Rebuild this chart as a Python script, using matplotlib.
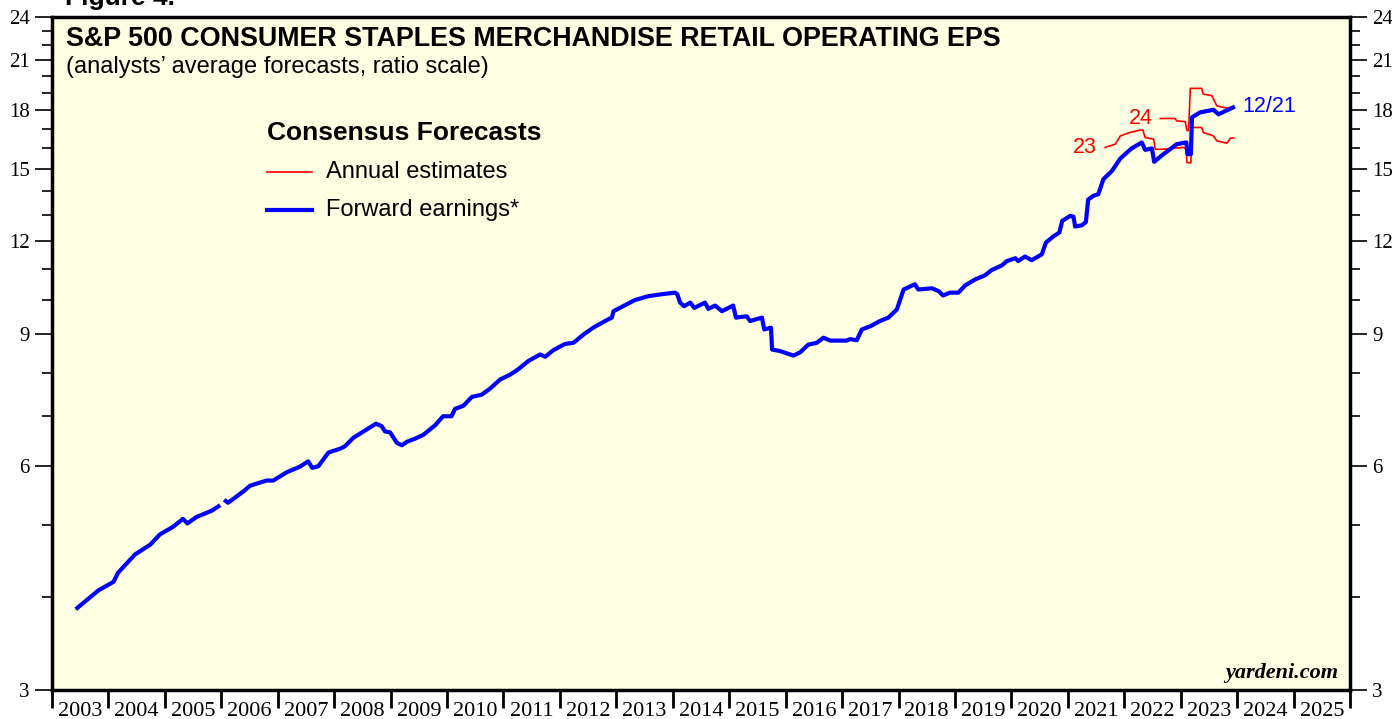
import numpy as np
import matplotlib
matplotlib.use('Agg')
import matplotlib.pyplot as plt
from matplotlib.ticker import FixedLocator, NullFormatter, FixedFormatter

# Forward earnings (decimal year, EPS)
fwd_year = [2003.42, 2003.82, 2004.09, 2004.17, 2004.47, 2004.74, 2004.91, 2005.15, 2005.32, 2005.40,
            2005.56, 2005.83, 2005.98, 2006.01, 2006.05, 2006.12, 2006.39, 2006.51, 2006.80, 2006.92,
            2007.16, 2007.39, 2007.54, 2007.61, 2007.72, 2007.90, 2008.10, 2008.19, 2008.34, 2008.55,
            2008.74, 2008.84, 2008.90, 2008.99, 2009.11, 2009.20, 2009.29, 2009.43, 2009.58, 2009.79,
            2009.93, 2010.08, 2010.14, 2010.29, 2010.44, 2010.61, 2010.76, 2010.94, 2011.12, 2011.26,
            2011.44, 2011.65, 2011.74, 2011.88, 2012.09, 2012.24, 2012.42, 2012.59, 2012.80, 2012.92,
            2012.95, 2013.12, 2013.33, 2013.57, 2013.80, 2014.04, 2014.08, 2014.13, 2014.20, 2014.31,
            2014.38, 2014.57, 2014.63, 2014.75, 2014.87, 2015.07, 2015.12, 2015.31, 2015.37, 2015.58,
            2015.62, 2015.74, 2015.76, 2015.90, 2016.14, 2016.26, 2016.40, 2016.55, 2016.67, 2016.79,
            2017.08, 2017.14, 2017.26, 2017.35, 2017.50, 2017.67, 2017.82, 2017.97, 2018.09, 2018.29,
            2018.35, 2018.59, 2018.71, 2018.79, 2018.91, 2019.06, 2019.18, 2019.36, 2019.53, 2019.65,
            2019.83, 2019.92, 2020.07, 2020.12, 2020.24, 2020.36, 2020.54, 2020.61, 2020.74, 2020.85,
            2020.90, 2021.04, 2021.10, 2021.13, 2021.25, 2021.32, 2021.36, 2021.45, 2021.54, 2021.63,
            2021.78, 2021.93, 2022.13, 2022.31, 2022.37, 2022.49, 2022.53, 2022.67, 2022.93, 2023.10,
            2023.12, 2023.18, 2023.20, 2023.34, 2023.58, 2023.67, 2023.96]
fwd_eps = [3.85, 4.08, 4.19, 4.31, 4.56, 4.70, 4.85, 4.97, 5.09, 5.02,
           5.12, 5.22, 5.31, np.nan, 5.40, 5.35, 5.54, 5.64, 5.73, 5.73,
           5.88, 5.98, 6.08, 5.96, 5.99, 6.25, 6.32, 6.37, 6.54, 6.69,
           6.83, 6.78, 6.67, 6.65, 6.44, 6.39, 6.46, 6.52, 6.60, 6.80,
           6.99, 6.99, 7.15, 7.22, 7.42, 7.47, 7.61, 7.83, 7.95, 8.08,
           8.29, 8.46, 8.40, 8.57, 8.74, 8.77, 9.00, 9.19, 9.38, 9.48,
           9.67, 9.82, 10.01, 10.13, 10.19, 10.24, 10.19, 9.93, 9.82, 9.93,
           9.77, 9.93, 9.74, 9.84, 9.67, 9.84, 9.48, 9.52, 9.38, 9.48,
           9.14, 9.19, 8.59, 8.55, 8.43, 8.52, 8.72, 8.77, 8.91, 8.83,
           8.83, 8.87, 8.84, 9.14, 9.23, 9.38, 9.48, 9.72, 10.34, 10.51,
           10.34, 10.38, 10.29, 10.15, 10.24, 10.24, 10.47, 10.67, 10.80, 10.98,
           11.14, 11.29, 11.39, 11.29, 11.45, 11.32, 11.53, 11.95, 12.18, 12.33,
           12.78, 12.98, 12.95, 12.56, 12.61, 12.74, 13.65, 13.81, 13.88, 14.54,
           14.91, 15.50, 15.99, 16.29, 15.92, 15.99, 15.34, 15.66, 16.20, 16.29,
           15.71, 15.71, 17.60, 17.87, 18.02, 17.77, 18.20]

# Annual estimates for 2023
est23_year = [2021.66, 2021.84, 2021.93, 2022.10, 2022.28, 2022.33, 2022.37, 2022.52, 2022.55, 2022.69,
              2022.87, 2023.05, 2023.10, 2023.11, 2023.18, 2023.20, 2023.37, 2023.40, 2023.58, 2023.64,
              2023.82, 2023.88, 2023.94]
est23_eps = [16.04, 16.20, 16.62, 16.80, 16.92, 16.92, 16.54, 16.45, 15.95, 15.95,
             16.00, 16.04, 15.95, 15.31, 15.29, 17.06, 17.06, 16.80, 16.62, 16.37,
             16.25, 16.51, 16.51]

# Annual estimates for 2024
est24_year = [2022.64, 2022.90, 2022.93, 2023.08, 2023.11, 2023.14, 2023.17, 2023.37, 2023.40, 2023.55,
              2023.64, 2023.75, 2023.88]
est24_eps = [17.54, 17.54, 17.41, 17.37, 16.90, 16.90, 19.25, 19.25, 18.91, 18.83,
             18.24, 18.15, 18.10]

years = list(range(2003, 2026))
y_major = [3, 6, 9, 12, 15, 18, 21, 24]
y_minor = [4, 5, 7, 8, 10, 11, 13, 14, 16, 17, 19, 20, 22, 23]

BLUE = '#0000FF'
RED = '#FF0000'

fig = plt.figure(figsize=(13.92, 7.19), dpi=100)
ax = fig.add_axes([52 / 1392, 1 - 690 / 719, 1298 / 1392, 673 / 719])
ax.set_facecolor('#FEFEE2')

ax.plot(est23_year, est23_eps, color=RED, lw=1.2)
ax.plot(est24_year, est24_eps, color=RED, lw=1.2)
ax.plot(fwd_year, fwd_eps, color=BLUE, lw=3.0, solid_capstyle='butt')

ax.set_yscale('log')
ax.set_ylim(3, 24)
ax.set_xlim(2003, 2026)

ax.yaxis.set_major_locator(FixedLocator(y_major))
ax.yaxis.set_major_formatter(FixedFormatter([str(v) for v in y_major]))
ax.yaxis.set_minor_locator(FixedLocator(y_minor))
ax.yaxis.set_minor_formatter(NullFormatter())

ax.xaxis.set_major_locator(FixedLocator(years + [2026]))
ax.xaxis.set_major_formatter(NullFormatter())
ax.xaxis.set_minor_locator(FixedLocator([y + 0.5 for y in years]))
ax.xaxis.set_minor_formatter(FixedFormatter([str(y) for y in years]))

ax.tick_params(axis='y', which='major', direction='out', length=12, width=1.2,
               left=True, right=True, labelleft=True, labelright=True, pad=4)
ax.tick_params(axis='y', which='minor', direction='out', length=7, width=1.2,
               left=True, right=True)
ax.tick_params(axis='x', which='major', direction='out', length=13, width=2, bottom=True)
ax.tick_params(axis='x', which='minor', length=0, pad=9)
for lab in ax.get_xticklabels(minor=True):
    lab.set_fontfamily('Liberation Serif')
    lab.set_fontsize(16)
for lab in ax.yaxis.get_ticklabels():
    lab.set_fontfamily('Liberation Serif')
    lab.set_fontsize(15)

for s in ax.spines.values():
    s.set_linewidth(2.5)

sans = 'Liberation Sans'
ax.text(0.011, 0.987, 'S&P 500 CONSUMER STAPLES MERCHANDISE RETAIL OPERATING EPS',
        transform=ax.transAxes, ha='left', va='top', fontsize=19.4, fontweight='bold', family=sans)
ax.text(0.011, 0.942, '(analysts\u2019 average forecasts, ratio scale)',
        transform=ax.transAxes, ha='left', va='top', fontsize=17, family=sans)
fig.text(65 / 1392, 1 - 5 / 719, 'Figure 4.', ha='left', va='baseline',
         fontsize=19, fontweight='bold', family=sans)

# legend
ax.text(0.166, 0.845, 'Consensus Forecasts', transform=ax.transAxes, ha='left', va='top',
        fontsize=19, fontweight='bold', family=sans)
ax.plot([0.166, 0.200], [0.7697, 0.7697], transform=ax.transAxes, color=RED, lw=1.2)
ax.text(0.211, 0.7697, 'Annual estimates', transform=ax.transAxes, ha='left', va='center',
        fontsize=17, family=sans)
ax.plot([0.166, 0.200], [0.7132, 0.7132], transform=ax.transAxes, color=BLUE, lw=3.0)
ax.text(0.211, 0.7132, 'Forward earnings*', transform=ax.transAxes, ha='left', va='center',
        fontsize=17, family=sans)

# series labels
ax.text(est23_year[0] - 0.14, est23_eps[0], '23', color=RED, ha='right', va='center',
        fontsize=15.5, family=sans)
ax.text(est24_year[0] - 0.14, est24_eps[0], '24', color=RED, ha='right', va='center',
        fontsize=15.5, family=sans)
ax.text(fwd_year[-1] + 0.13, fwd_eps[-1], '12/21', color=BLUE, ha='left', va='center',
        fontsize=15.5, family=sans)

ax.text(0.991, 0.01, 'yardeni.com', transform=ax.transAxes, ha='right', va='bottom',
        fontsize=16, fontweight='bold', fontstyle='italic', family='Liberation Serif')

fig.savefig('out.png', dpi=100)
